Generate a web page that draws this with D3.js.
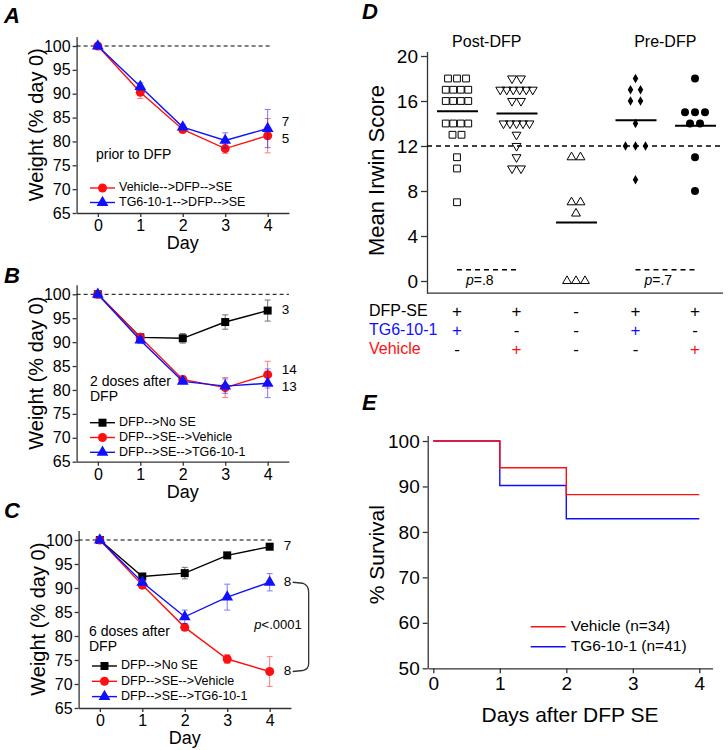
<!DOCTYPE html>
<html>
<head>
<meta charset="utf-8">
<script src="https://cdn.jsdelivr.net/npm/d3@7"></script>
<style>
  body { margin: 0; background: #fff; }
  svg { font-family: "Liberation Sans", Arial, sans-serif; }
</style>
</head>
<body>
<div id="fig"></div>
<script>
// ---- data ----
const days = [0, 1, 2, 3, 4];
const weightTicks = [65, 70, 75, 80, 85, 90, 95, 100];

// panel A
const aVehicle = [100, 90.3, 82.5, 78.5, 81.2];
const aVehicleErr = [0.3, 1.3, 0.6, 1.0, 3.6];
const aTG = [100, 91.5, 83.0, 80.2, 82.7];
const aTGErr = [0.3, 0.8, 0.6, 1.6, 4.0];

// panel B
const bNoSE = [100, 91.0, 90.8, 94.2, 96.6];
const bNoSEErr = [0.3, 0.6, 1.0, 1.5, 2.2];
const bVehicle = [100, 91.0, 82.2, 80.5, 83.2];
const bVehicleErr = [0.3, 0.8, 0.7, 2.1, 2.8];
const bTG = [100, 90.4, 81.8, 80.8, 81.4];
const bTGErr = [0.3, 0.7, 0.5, 1.5, 3.0];

// panel C
const cNoSE = [100, 92.4, 93.1, 96.8, 98.6];
const cNoSEErr = [0.3, 0.5, 1.2, 0.5, 0.5];
const cVehicle = [100, 90.6, 81.8, 75.2, 72.6];
const cVehicleErr = [0.3, 0.5, 0.6, 0.9, 3.1];
const cTG = [100, 91.2, 84.0, 88.1, 91.2];
const cTGErr = [0.3, 0.6, 1.4, 2.7, 1.8];

// panel D (individual Irwin scores per group)
const irwinGroups = ["TG6 post", "Vehicle post", "No SE", "TG6 pre", "Vehicle pre"];
const irwinScores = [
  [18, 18, 18, 17, 17, 17, 17, 16, 16, 16, 16, 14, 14, 14, 14, 13, 13, 11, 10, 7],
  [18, 18, 17, 17, 17, 17, 17, 17, 16, 16, 14, 14, 14, 14, 14, 13, 12, 11, 10, 10],
  [11, 11, 7, 7, 6, 0, 0, 0],
  [18, 17, 17, 16, 16, 14, 12, 12, 12, 9],
  [18, 15, 15, 15, 14, 14, 11, 8]
];
const irwinMeans = [15.1, 14.9, 5.2, 14.3, 13.8];
const irwinTicks = [0, 4, 8, 12, 16, 20];
const rowDFPSE = ["+", "+", "-", "+", "+"];
const rowTG = ["+", "-", "-", "+", "-"];
const rowVehicle = ["-", "+", "-", "-", "+"];

// panel E (Kaplan-Meier)
const survDays = [0, 1, 2, 4];
const survVehicle = [100, 94.1, 88.2, 88.2];
const survTG = [100, 90.2, 82.9, 82.9];
const survTicksY = [50, 60, 70, 80, 90, 100];

const RED = "#ff1010", BLUE = "#1010ff", BLACK = "#000";

const svg = d3.select("#fig").append("svg")
  .attr("width", 728).attr("height", 750);

function panelLetter(t, x, y) {
  svg.append("text").attr("x", x).attr("y", y)
    .attr("font-size", 22).attr("font-weight", "bold").attr("font-style", "italic")
    .text(t);
}

function styleAxis(g, size) {
  g.selectAll("path, line").attr("stroke", "#333").attr("stroke-width", 1.3);
  g.selectAll("text").attr("font-size", size).attr("fill", "#000")
    .attr("font-family", "Liberation Sans, Arial, sans-serif");
}

function marker(shape, area) {
  const t = shape == "circle" ? d3.symbolCircle : shape == "square" ? d3.symbolSquare : d3.symbolTriangle;
  return d3.symbol().type(t).size(area)();
}

// ---- weight panels (A, B, C) ----
function weightPanel(p) {
  const x = d3.scaleLinear().domain([-0.5, 4.5]).range([p.x0 + 76.6, p.x0 + 288.9]);
  const y = d3.scaleLinear().domain([65, 100]).range([p.y65, p.y100]);
  const yAx = y.copy().domain([65, 102]).range([y(65), y(102)]);
  const g = svg.append("g");

  const ya = g.append("g").attr("transform", `translate(${x(-0.5)},0)`)
    .call(d3.axisLeft(yAx).tickValues(weightTicks).tickSize(4).tickSizeOuter(0).tickPadding(2));
  styleAxis(ya, 16);
  const xa = g.append("g").attr("transform", `translate(0,${y(65)})`)
    .call(d3.axisBottom(x).tickValues(days).tickFormat(d3.format("d"))
      .tickSize(4).tickSizeOuter(0).tickPadding(3));
  styleAxis(xa, 16);

  g.append("text").attr("x", (x(0) + x(4)) / 2).attr("y", y(65) + 36)
    .attr("text-anchor", "middle").attr("font-size", 18).text("Day");
  g.append("text")
    .attr("transform", `translate(${p.x0 + 38},${(y(65) + y(102)) / 2}) rotate(-90)`)
    .attr("text-anchor", "middle").attr("dominant-baseline", "middle")
    .attr("font-size", 20).text("Weight (% day 0)");

  // reference line at 100%
  g.append("line").attr("x1", x(-0.5)).attr("x2", x(p.dashEnd))
    .attr("y1", y(100)).attr("y2", y(100))
    .attr("stroke", "#000").attr("stroke-width", 1).attr("stroke-dasharray", "4,3");

  const line = d3.line().x((d, i) => x(days[i])).y(d => y(d));
  p.series.forEach(s => {
    // error bars
    const eb = g.append("g").attr("stroke", s.color).attr("stroke-width", 1).attr("opacity", 0.55);
    s.vals.forEach((v, i) => {
      const e = s.err[i];
      eb.append("line").attr("x1", x(days[i])).attr("x2", x(days[i]))
        .attr("y1", y(v - e)).attr("y2", y(v + e));
      [v - e, v + e].forEach(w => eb.append("line")
        .attr("x1", x(days[i]) - 3).attr("x2", x(days[i]) + 3)
        .attr("y1", y(w)).attr("y2", y(w)));
    });
    g.append("path").datum(s.vals).attr("d", line)
      .attr("fill", "none").attr("stroke", s.color).attr("stroke-width", 1.4);
    g.selectAll(null).data(s.vals).enter().append("path")
      .attr("d", marker(s.shape, s.shape == "triangle" ? 60 : 64))
      .attr("transform", (d, i) => `translate(${x(days[i])},${y(d)})`)
      .attr("fill", s.color);
  });

  // group sizes
  p.nLabels.forEach(n => g.append("text").attr("x", x(4) + 14).attr("y", y(n.v))
    .attr("dominant-baseline", "middle").attr("font-size", 13.5).text(n.t));

  // note text
  p.note.forEach((t, i) => g.append("text").attr("x", p.x0 + p.noteX).attr("y", p.noteY + i * 15)
    .attr("dominant-baseline", "middle").attr("font-size", 14).text(t));

  // legend
  p.series.forEach((s, i) => {
    const ly = p.legendY + i * p.legendStep;
    const lx = p.x0 + 90;
    g.append("line").attr("x1", lx).attr("x2", lx + 25).attr("y1", ly).attr("y2", ly)
      .attr("stroke", s.color).attr("stroke-width", 1.4);
    g.append("path").attr("d", marker(s.shape, s.shape == "triangle" ? 60 : 64))
      .attr("transform", `translate(${lx + 12.5},${ly})`).attr("fill", s.color);
    g.append("text").attr("x", lx + 29).attr("y", ly).attr("dominant-baseline", "middle")
      .attr("font-size", 12.5).text(s.name);
  });
  return { x, y, g };
}

panelLetter("A", 4, 23);
weightPanel({
  x0: 0, y100: 46, y65: 213, dashEnd: 4.1,
  series: [
    { name: "Vehicle-->DFP-->SE", vals: aVehicle, err: aVehicleErr, color: RED, shape: "circle" },
    { name: "TG6-10-1-->DFP-->SE", vals: aTG, err: aTGErr, color: BLUE, shape: "triangle" }
  ],
  nLabels: [{ v: 83.9, t: "7" }, { v: 80.5, t: "5" }],
  note: ["prior to DFP"], noteX: 96, noteY: 155,
  legendY: 188, legendStep: 14.5
});

panelLetter("B", 4, 283);
weightPanel({
  x0: 0, y100: 294.3, y65: 461.7, dashEnd: 4.5,
  series: [
    { name: "DFP-->No SE", vals: bNoSE, err: bNoSEErr, color: BLACK, shape: "square" },
    { name: "DFP-->SE-->Vehicle", vals: bVehicle, err: bVehicleErr, color: RED, shape: "circle" },
    { name: "DFP-->SE-->TG6-10-1", vals: bTG, err: bTGErr, color: BLUE, shape: "triangle" }
  ],
  nLabels: [{ v: 96.6, t: "3" }, { v: 84.1, t: "14" }, { v: 80.6, t: "13" }],
  note: ["2 doses after", "DFP"], noteX: 90, noteY: 382,
  legendY: 422.7, legendStep: 14.8
});

panelLetter("C", 4, 518);
const pc = weightPanel({
  x0: 2, y100: 540, y65: 708, dashEnd: 4.05,
  series: [
    { name: "DFP-->No SE", vals: cNoSE, err: cNoSEErr, color: BLACK, shape: "square" },
    { name: "DFP-->SE-->Vehicle", vals: cVehicle, err: cVehicleErr, color: RED, shape: "circle" },
    { name: "DFP-->SE-->TG6-10-1", vals: cTG, err: cTGErr, color: BLUE, shape: "triangle" }
  ],
  nLabels: [{ v: cNoSE[4], t: "7" }, { v: cTG[4], t: "8" }, { v: cVehicle[4], t: "8" }],
  note: ["6 doses after", "DFP"], noteX: 87, noteY: 632,
  legendY: 666, legendStep: 15.3
});
// significance bracket between TG6 and vehicle at day 4
{
  const bx = pc.x(4) + 23, y1 = pc.y(cTG[4]), y2 = pc.y(cVehicle[4]);
  pc.g.append("path")
    .attr("d", `M${bx},${y1} L${bx + 10},${y1 + 1} Q${bx + 16},${y1 + 3} ${bx + 16},${y1 + 10}
      L${bx + 16},${y2 - 8} Q${bx + 16},${y2 - 2} ${bx + 10},${y2 - 1} L${bx},${y2}`)
    .attr("fill", "none").attr("stroke", "#333").attr("stroke-width", 1.3);
  const pt = pc.g.append("text").attr("x", 278).attr("y", (y1 + y2) / 2 - 1)
    .attr("text-anchor", "middle").attr("dominant-baseline", "middle").attr("font-size", 13);
  pt.append("tspan").attr("font-style", "italic").text("p");
  pt.append("tspan").text("<.0001");
}

// ---- panel D: Irwin scores ----
panelLetter("D", 362, 19);
{
  const g = svg.append("g");
  const x = d3.scalePoint().domain(d3.range(5)).range([457, 695]);
  const y = d3.scaleLinear().domain([0, 20]).range([281, 56]);
  const yAx = y.copy().domain([-1.07, 20.4]).range([y(-1.07), y(20.4)]);

  const ya = g.append("g").attr("transform", "translate(427,0)")
    .call(d3.axisLeft(yAx).tickValues(irwinTicks).tickSize(6).tickSizeOuter(0).tickPadding(3));
  styleAxis(ya, 19);
  g.append("line").attr("x1", 427).attr("x2", 723).attr("y1", y(-1.07)).attr("y2", y(-1.07))
    .attr("stroke", "#333").attr("stroke-width", 1.3);

  g.append("text").attr("transform", `translate(378,${(y(0) + y(20)) / 2 + 2}) rotate(-90)`)
    .attr("text-anchor", "middle").attr("dominant-baseline", "middle")
    .attr("font-size", 22).text("Mean Irwin Score");

  g.append("text").attr("x", (x(0) + x(1)) / 2).attr("y", 43).attr("text-anchor", "middle")
    .attr("dominant-baseline", "middle").attr("font-size", 16).text("Post-DFP");
  g.append("text").attr("x", (x(3) + x(4)) / 2).attr("y", 43).attr("text-anchor", "middle")
    .attr("dominant-baseline", "middle").attr("font-size", 16).text("Pre-DFP");

  // threshold line
  g.append("line").attr("x1", 427).attr("x2", 723).attr("y1", y(12)).attr("y2", y(12))
    .attr("stroke", "#000").attr("stroke-width", 1.5).attr("stroke-dasharray", "5,4");

  const shapes = [
    { t: d3.symbolSquare, s: 46, fill: "none", rot: 0, sp: 7.5 },
    { t: d3.symbolTriangle, s: 34, fill: "none", rot: 180, sp: 6.5 },
    { t: d3.symbolTriangle, s: 34, fill: "none", rot: 0, sp: 9 },
    { t: d3.symbolDiamond, s: 26, fill: "#000", rot: 0, sp: 10 },
    { t: d3.symbolCircle, s: 50, fill: "#000", rot: 0, sp: 10 }
  ];
  irwinScores.forEach((vals, gi) => {
    const sh = shapes[gi];
    const counts = d3.rollup(vals, v => v.length, d => d);
    const seen = new Map();
    const pts = vals.map(v => {
      const n = counts.get(v), k = seen.get(v) || 0;
      seen.set(v, k + 1);
      const sp = n <= 3 ? Math.max(sh.sp, 9) : sh.sp;
      return { v, dx: (k - (n - 1) / 2) * sp };
    });
    g.selectAll(null).data(pts).enter().append("path")
      .attr("d", d3.symbol().type(sh.t).size(sh.s)())
      .attr("transform", d => `translate(${x(gi) + d.dx},${y(d.v)}) rotate(${sh.rot})`)
      .attr("fill", sh.fill).attr("stroke", "#000").attr("stroke-width", sh.fill == "none" ? 1 : 0);
  });

  // group means
  g.selectAll(null).data(irwinMeans).enter().append("line")
    .attr("x1", (d, i) => x(i) - 20).attr("x2", (d, i) => x(i) + 21)
    .attr("y1", d => y(d)).attr("y2", d => y(d))
    .attr("stroke", "#000").attr("stroke-width", 2);

  // comparisons
  [[0, 1, "=.8"], [3, 4, "=.7"]].forEach(([a, b, t]) => {
    g.append("line").attr("x1", x(a)).attr("x2", x(b)).attr("y1", y(1)).attr("y2", y(1))
      .attr("stroke", "#000").attr("stroke-width", 1.5).attr("stroke-dasharray", "5,4");
    const tx = g.append("text").attr("x", (x(a) + x(b)) / 2 - 7).attr("y", y(0))
      .attr("text-anchor", "middle").attr("dominant-baseline", "middle").attr("font-size", 14);
    tx.append("tspan").attr("font-style", "italic").text("p");
    tx.append("tspan").text(t);
  });

  // treatment table
  const rows = [
    { label: "DFP-SE", color: BLACK, signs: rowDFPSE, y: 312 },
    { label: "TG6-10-1", color: BLUE, signs: rowTG, y: 331 },
    { label: "Vehicle", color: RED, signs: rowVehicle, y: 350 }
  ];
  rows.forEach(r => {
    g.append("text").attr("x", 369).attr("y", r.y).attr("dominant-baseline", "middle")
      .attr("font-size", 16).attr("fill", r.color).text(r.label);
    g.selectAll(null).data(r.signs).enter().append("text")
      .attr("x", (d, i) => x(i)).attr("y", r.y + 1)
      .attr("text-anchor", "middle").attr("dominant-baseline", "middle")
      .attr("font-size", 17)
      .attr("fill", d => d == "+" ? r.color : "#000")
      .text(d => d);
  });
}

// ---- panel E: survival ----
panelLetter("E", 362, 410);
{
  const g = svg.append("g");
  const x = d3.scaleLinear().domain([0, 4]).range([433.3, 699.3]);
  const y = d3.scaleLinear().domain([50, 100]).range([668.3, 441]);
  const yAx = y.copy().domain([50, 101.2]).range([y(50), y(101.2)]);

  const ya = g.append("g").attr("transform", "translate(427.7,0)")
    .call(d3.axisLeft(yAx).tickValues(survTicksY).tickSize(5).tickSizeOuter(0).tickPadding(3));
  styleAxis(ya, 19);
  const xAx = x.copy().domain([-0.08, 4.2]).range([x(-0.08), x(4.2)]);
  const xa = g.append("g").attr("transform", `translate(0,${y(50)})`)
    .call(d3.axisBottom(xAx).tickValues(days).tickFormat(d3.format("d"))
      .tickSize(5).tickSizeOuter(0).tickPadding(3));
  styleAxis(xa, 19);

  g.append("text").attr("x", 570).attr("y", 716).attr("text-anchor", "middle")
    .attr("dominant-baseline", "middle").attr("font-size", 21).text("Days after DFP SE");
  g.append("text").attr("transform", `translate(378,${(y(50) + y(100)) / 2}) rotate(-90)`)
    .attr("text-anchor", "middle").attr("dominant-baseline", "middle")
    .attr("font-size", 21).text("% Survival");

  const line = d3.line().curve(d3.curveStepAfter).x((d, i) => x(survDays[i])).y(d => y(d));
  [[survTG, BLUE], [survVehicle, RED]].forEach(([s, c]) => {
    g.append("path").datum(s).attr("d", line)
      .attr("fill", "none").attr("stroke", c).attr("stroke-width", 1.4);
  });

  [["Vehicle (n=34)", RED], ["TG6-10-1 (n=41)", BLUE]].forEach(([t, c], i) => {
    const ly = 626.7 + i * 20;
    g.append("line").attr("x1", 530.7).attr("x2", 565.7).attr("y1", ly).attr("y2", ly)
      .attr("stroke", c).attr("stroke-width", 1.4);
    g.append("text").attr("x", 570.7).attr("y", ly).attr("dominant-baseline", "middle")
      .attr("font-size", 15.5).text(t);
  });
}
</script>
</body>
</html>
